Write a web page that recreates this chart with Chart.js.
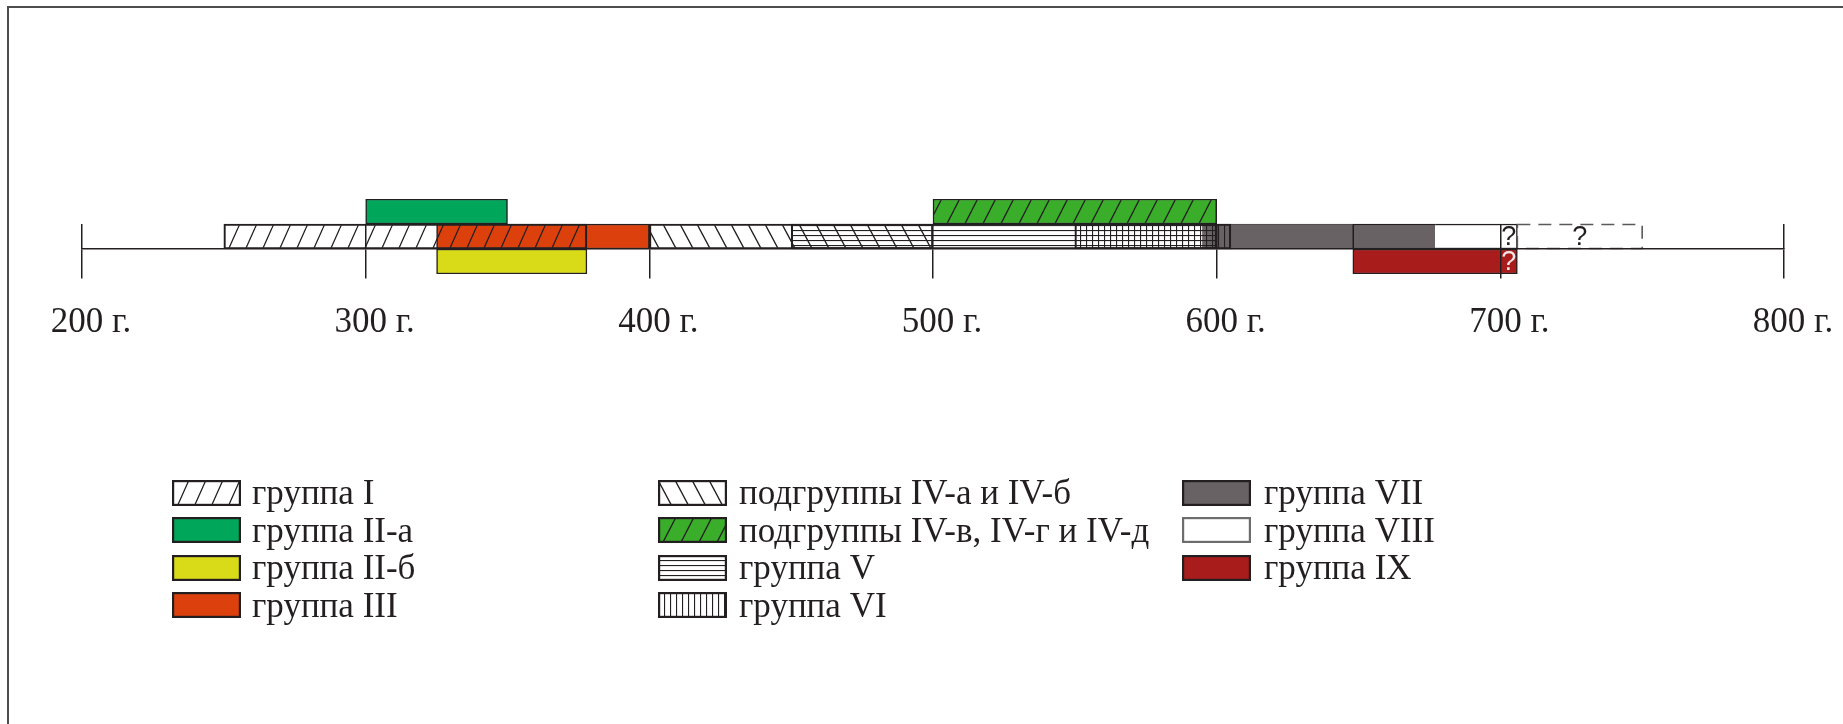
<!DOCTYPE html>
<html>
<head>
<meta charset="utf-8">
<script src="https://cdn.jsdelivr.net/npm/chart.js@4.4.0/dist/chart.umd.min.js"></script>
<style>
  html, body { margin: 0; padding: 0; background: #fff; }
  #wrap { position: relative; width: 1843px; height: 724px; overflow: hidden; }
  #frame { position: absolute; left: 7px; top: 6px; width: 2000px; height: 900px;
           border-left: 2px solid #4d4d4d; border-top: 2px solid #4d4d4d; }
  #chart { position: absolute; left: 0; top: 0; }
  .col { position: absolute; top: 474px; font-family: 'Liberation Serif', 'Times New Roman', serif;
         font-size: 35px; color: #231f20; white-space: nowrap; }
  .item { height: 37.5px; line-height: 37.5px; display: flex; align-items: center; }
  .item canvas { flex: none; }
</style>
</head>
<body>
<div id="wrap">
  <div id="frame"></div>
  <canvas id="chart" width="1843" height="724"></canvas>
  <div id="legend"></div>
</div>
<script>
// rows of the timeline (top, middle = on the axis, bottom)
const rowNames = ['верхний ряд', 'средний ряд', 'нижний ряд'];

// groups (legend order)
const groupNames = ['группа I', 'группа II-а', 'группа II-б', 'группа III',
  'подгруппы IV-а и IV-б', 'подгруппы IV-в, IV-г и IV-д', 'группа V', 'группа VI',
  'группа VII', 'группа VIII', 'группа IX'];
const groupStart = [250, 300, 325, 325, 400, 500, 450, 550, 648, 677, 648];
const groupEnd   = [378, 350, 378, 400, 500, 600, 600, 605, 677, 706, 706];
const groupRow   = [1, 0, 2, 1, 1, 0, 1, 1, 1, 1, 2];

// extra pieces: early part of VII, uncertain ("?") ends of VIII and IX
const extraNames = ['группа VII (начало)', 'группа VIII ?', 'группа VIII ??', 'группа IX ?'];
const extraStart = [595, 700, 706, 700];
const extraEnd   = [648, 706, 750, 706];
const extraRow   = [1, 1, 1, 2];

// axis years
const yearMin = 200, yearMax = 800, yearStep = 100;

const legendCols = [[0, 1, 2, 3], [4, 5, 6, 7], [8, 9, 10]];

const ink = '#231f20';

function pattern(w, h, bg, draw) {
  const c = document.createElement('canvas');
  c.width = w; c.height = h;
  const g = c.getContext('2d');
  if (bg) { g.fillStyle = bg; g.fillRect(0, 0, w, h); }
  g.strokeStyle = ink; g.fillStyle = ink; g.lineWidth = 1.3;
  draw(g, w, h);
  return g.createPattern(c, 'repeat');
}
function slash(g, w, h) {
  g.beginPath();
  for (let k = -1; k <= 1; k++) { g.moveTo(k * w, h); g.lineTo(k * w + w, 0); }
  g.stroke();
}
function backslash(g, w, h) {
  g.beginPath();
  for (let k = -1; k <= 1; k++) { g.moveTo(k * w, 0); g.lineTo(k * w + w, h); }
  g.stroke();
}

const fills = {
  hatchI: pattern(17, 38, null, slash),
  green: '#00a65a',
  yellow: '#d9db19',
  orange: '#dc410d',
  hatchIV: pattern(17, 32, null, backslash),
  greenHatch: pattern(18, 35, '#3aad2b', slash),
  hlines: pattern(4, 5, null, (g) => g.fillRect(0, 0, 4, 1.1)),
  vlines: pattern(6, 4, null, (g) => g.fillRect(0, 0, 1.1, 4)),
  gray: '#686265',
  white: '#ffffff',
  red: '#a91c1c',
  none: 'rgba(0,0,0,0)'
};

// look of every group, and drawing order (bigger = drawn earlier)
const groupLook = [
  { fill: 'hatchI', order: 90 },
  { fill: 'green', order: 40 },
  { fill: 'yellow', order: 39 },
  { fill: 'orange', order: 95 },
  { fill: 'hatchIV', order: 85 },
  { fill: 'greenHatch', order: 38 },
  { fill: 'hlines', order: 60 },
  { fill: 'vlines', order: 55 },
  { fill: 'gray', order: 75, bw: { top: 1.5, bottom: 1.5, left: 1.5, right: 0 } },
  { fill: 'white', order: 70, bw: { top: 1.5, bottom: 1.5, left: 0, right: 1.5 } },
  { fill: 'red', order: 30 }
];
const extraLook = [
  { fill: 'gray', order: 80, bw: 1, border: '#4e484b' },
  { fill: 'none', order: 10, bw: 0, mark: ink },
  { fill: 'none', order: 9, bw: 0, mark: ink, dashed: true },
  { fill: 'none', order: 8, bw: 0, mark: '#f3e6e6' }
];

function rowData(row, a, b) {
  return rowNames.map((_, r) => (r === row ? [a, b] : null));
}
function makeSet(label, row, a, b, look) {
  return {
    label: label,
    data: rowData(row, a, b),
    backgroundColor: fills[look.fill],
    borderColor: look.border || ink,
    borderWidth: look.bw === undefined ? 1.5 : look.bw,
    borderSkipped: false,
    order: look.order,
    mark: look.mark,
    dashed: look.dashed,
    barPercentage: 1,
    categoryPercentage: 1,
    grouped: false
  };
}

const datasets = groupNames.map((n, i) => makeSet(n, groupRow[i], groupStart[i], groupEnd[i], groupLook[i]))
  .concat(extraNames.map((n, i) => makeSet(n, extraRow[i], extraStart[i], extraEnd[i], extraLook[i])));

// "?" marks and the dashed box of the uncertain parts
const marks = {
  id: 'marks',
  afterDatasetsDraw(chart) {
    const ctx = chart.ctx;
    chart.data.datasets.forEach((ds, i) => {
      if (!ds.mark && !ds.dashed) return;
      chart.getDatasetMeta(i).data.forEach((bar, j) => {
        if (ds.data[j] == null) return;
        const p = bar.getProps(['x', 'y', 'base', 'height'], true);
        const l = Math.min(p.x, p.base), r = Math.max(p.x, p.base);
        ctx.save();
        if (ds.dashed) {
          ctx.setLineDash([13, 8]);
          ctx.strokeStyle = '#5a5a5a';
          ctx.lineWidth = 1.6;
          ctx.strokeRect(l, p.y - p.height / 2 + 0.5, r - l, p.height - 1);
        }
        ctx.fillStyle = ds.mark;
        ctx.font = '27px "Liberation Sans", Arial, sans-serif';
        ctx.textAlign = 'center';
        ctx.textBaseline = 'middle';
        ctx.fillText('?', (l + r) / 2, p.y + 1);
        ctx.restore();
      });
    });
  }
};

const tickFont = { family: "'Liberation Serif', 'Times New Roman', serif", size: 35, lineHeight: 1.65 };

new Chart(document.getElementById('chart'), {
  type: 'bar',
  data: { labels: rowNames, datasets: datasets },
  options: {
    indexAxis: 'y',
    responsive: false,
    animation: false,
    layout: { padding: { left: 82, right: 59, top: 199, bottom: 450 } },
    plugins: { legend: { display: false }, tooltip: { enabled: false } },
    scales: {
      x: {
        type: 'linear',
        min: yearMin, max: yearMax,
        position: { y: 1.5 },
        border: { display: true, color: ink, width: 1.5, z: 1 },
        grid: { drawOnChartArea: false, drawTicks: true, tickLength: 29, color: ink, lineWidth: 1.5, z: 1 },
        ticks: {
          stepSize: yearStep, padding: 16, labelOffset: 9, color: ink, font: tickFont,
          maxRotation: 0, autoSkip: false,
          callback: (v) => v + ' г.'
        }
      },
      x2: {
        type: 'linear', axis: 'x',
        min: yearMin, max: yearMax,
        position: { y: 0.5 },
        border: { display: false },
        grid: { drawOnChartArea: false, drawTicks: true, tickLength: 25, color: ink, lineWidth: 1.5, z: 1 },
        ticks: { stepSize: yearStep, display: false }
      },
      y: { display: false, offset: true }
    }
  },
  plugins: [marks]
});

// legend built from the datasets' own fills
const colX = [172, 658, 1182];
const colGap = [11, 12, 13];
const legend = document.getElementById('legend');
legendCols.forEach((idxs, c) => {
  const col = document.createElement('div');
  col.className = 'col';
  col.style.left = colX[c] + 'px';
  idxs.forEach((i) => {
    const item = document.createElement('div');
    item.className = 'item';
    const sw = document.createElement('canvas');
    sw.width = 69; sw.height = 26;
    sw.style.marginRight = colGap[c] + 'px';
    const g = sw.getContext('2d');
    g.fillStyle = '#fff'; g.fillRect(0, 0, 69, 26);
    g.fillStyle = datasets[i].backgroundColor; g.fillRect(0, 0, 69, 26);
    g.strokeStyle = groupNames[i] === 'группа VIII' ? '#6d6d6d' : ink;
    g.lineWidth = 2.2;
    g.strokeRect(1.1, 1.1, 66.8, 23.8);
    item.appendChild(sw);
    const t = document.createElement('span');
    t.textContent = groupNames[i];
    item.appendChild(t);
    col.appendChild(item);
  });
  legend.appendChild(col);
});
</script>
</body>
</html>
